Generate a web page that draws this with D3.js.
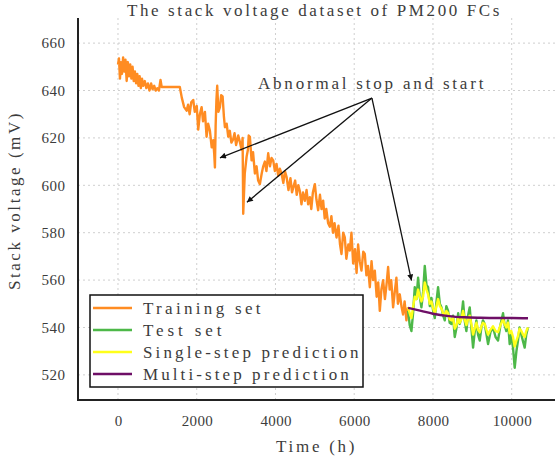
<!DOCTYPE html>
<html>
<head>
<meta charset="utf-8">
<script src="https://cdn.jsdelivr.net/npm/d3@7"></script>
<style>
  body { margin: 0; background: #fff; }
  svg { display: block; }
  text { font-family: "Liberation Serif", "DejaVu Serif", serif; fill: #3c3c3c; }
</style>
</head>
<body>
<div id="chart"></div>
<script>
// data: [time (h), stack voltage (mV)]
const trainingSet = [
  [0,651],[25,653.5],[50,645],[75,652],[100,647],[130,654],[160,648],[190,653],[220,644],[250,652],
  [280,646],[310,651],[340,645],[370,650],[400,644],[430,648],[460,643],[490,647],[520,642],[550,646],
  [580,641],[610,645],[640,642],[680,644],[720,641],[760,643],[800,640],[840,643],[880,640.5],[920,642],
  [960,640],[1000,641],[1040,640],[1080,644.5],[1110,641.5],[1570,641.5],[1620,637],[1680,633],[1743,631.5],
  [1780,634],[1820,630],[1860,635],[1911,636],[1950,631],[2000,633.5],[2038,623.5],[2080,630],[2124,633],
  [2160,627],[2208,631],[2250,620.5],[2290,626],[2335,623],[2380,616],[2419,619],[2445,613],[2462,607.5],
  [2480,625],[2500,636],[2520,642],[2550,631],[2589,633],[2620,638],[2657,637.5],[2690,629],[2716,624.5],
  [2760,626],[2800,620.5],[2840,623],[2880,618],[2927,619.5],[2960,622],[3000,617],[3054,621],[3100,618],
  [3139,615],[3165,620],[3181,588],[3220,605],[3266,612],[3300,615],[3320,621],[3350,620.5],[3393,610.5],
  [3430,614],[3477,605],[3520,608],[3560,602],[3604,600.5],[3650,605],[3689,608],[3730,610],[3770,606],
  [3815,613.5],[3860,608],[3900,611.5],[3942,610.5],[3985,606],[4027,609],[4070,604],[4110,607],[4154,605],
  [4200,601],[4240,606],[4282,603.5],[4330,598],[4380,603],[4420,597],[4451,599],[4500,602],[4540,596],
  [4580,600],[4620,597.5],[4660,592],[4700,597],[4746,593.5],[4790,598],[4830,592],[4873,595],[4910,590],
  [4950,597],[5000,600.5],[5040,594],[5084,589.5],[5130,596],[5170,590],[5211,593.5],[5250,586],[5290,590],
  [5338,584],[5381,582.5],[5420,587],[5460,580],[5500,584],[5550,578],[5600,583],[5640,575],[5677,571],
  [5720,580],[5761,578],[5800,569],[5850,575],[5888,572.5],[5930,580],[5973,567],[6020,573],[6060,563],
  [6099,575],[6140,568],[6184,564],[6230,572],[6269,571],[6310,562],[6350,566],[6396,557],[6440,568],
  [6480,560],[6523,564],[6570,553],[6610,559],[6650,547],[6690,556],[6734,560],[6780,552],[6820,558],
  [6861,565.5],[6900,556],[6940,560],[6988,548.5],[7030,555],[7072,561],[7110,550],[7157,554],[7200,549],
  [7241,545.5],[7280,551],[7326,543],[7350,547],[7368,548.5]
];

const testSet = [
  [7368,547],[7410,541],[7453,538.5],[7495,546],[7538,557],[7580,552],[7622,561],[7665,553],[7707,548.5],
  [7750,555],[7792,566],[7835,558],[7876,557],[7920,549],[7961,552.5],[8005,547],[8046,544],[8090,551],
  [8130,557],[8175,550],[8215,548.5],[8260,545],[8300,543],[8340,549],[8384,547],[8425,542],[8469,541.5],
  [8510,545],[8553,536],[8600,540],[8640,546],[8680,541.5],[8720,544],[8765,551],[8805,543],[8849,538.5],
  [8890,545],[8934,548.5],[8975,540],[9019,531.5],[9060,538],[9103,543],[9145,537],[9188,534.5],[9230,540],
  [9270,543],[9315,541.5],[9360,537],[9400,533],[9460,538],[9526,540],[9590,536],[9653,534.5],[9715,541],
  [9780,546],[9820,541],[9864,538.5],[9905,543],[9949,533],[9990,537],[10034,531.5],[10076,523],[10120,530],
  [10160,534.5],[10200,540],[10245,537],[10290,534],[10330,531.5],[10370,537],[10414,540]
];

const singleStep = [
  [7368,548.5],[7410,546],[7453,544],[7495,548.5],[7538,553],[7580,552],[7622,556],[7665,553],[7707,551],
  [7750,553],[7792,559],[7835,556],[7876,554],[7920,550],[7961,551],[8005,548],[8046,546],[8090,549],
  [8130,552],[8175,549],[8215,548],[8260,546],[8300,545],[8340,547],[8384,546],[8425,543.5],[8469,543],
  [8510,544],[8553,539.5],[8600,541],[8640,544],[8680,542],[8720,543.5],[8765,547],[8805,543.5],[8849,541],
  [8890,543.5],[8934,545],[8975,541.5],[9019,537],[9060,539.5],[9103,542],[9145,539],[9188,538],[9230,540.5],
  [9270,542],[9315,541.5],[9360,539],[9400,537],[9460,539],[9526,540.5],[9590,538.5],[9653,538],[9715,541],
  [9780,543.5],[9820,541.5],[9864,540],[9905,542],[9949,537.5],[9990,538.5],[10034,536],[10076,532],
  [10120,534.5],[10160,536.5],[10200,539.5],[10245,538.5],[10290,537],[10330,536],[10370,538.5],[10414,540]
];

const multiStep = [
  [7368,548.3],[7700,547],[8000,545.8],[8400,544.8],[8800,544.3],[9200,544.1],[9600,544],[10000,544],[10414,543.9]
];

const xTicks = [0, 2000, 4000, 6000, 8000, 10000];
const yTicks = [520, 540, 560, 580, 600, 620, 640, 660];

const legendItems = [
  { label: 'Training set', color: '#ff8c22' },
  { label: 'Test set', color: '#4db848' },
  { label: 'Single-step prediction', color: '#ffff1a' },
  { label: 'Multi-step prediction', color: '#6e0f66' }
];

// arrows: tips given in data units, all from one origin
const arrowOrigin = [6450, 636.8];
const arrowTips = [[2590, 611.6], [3275, 592.8], [7455, 559.8]];

const width = 555, height = 458;
const margin = { left: 78, right: 0, top: 18, bottom: 58 };
const charW = 9.8;   // the original font is fixed-pitch: ~9.8px per character

const svg = d3.select('#chart').append('svg')
  .attr('width', width)
  .attr('height', height);

// spread a label to the fixed-pitch width of the original
function pitched(sel, w) {
  sel.attr('textLength', function() { return this.textContent.length * w; })
    .attr('lengthAdjust', 'spacing');
}

const x = d3.scaleLinear().domain([-1016, 11100]).range([margin.left, width]);
const y = d3.scaleLinear().domain([509.4, 670.6]).range([height - margin.bottom, margin.top]);

svg.append('defs').append('clipPath').attr('id', 'clip')
  .append('rect')
  .attr('x', margin.left).attr('y', margin.top)
  .attr('width', width - margin.left).attr('height', height - margin.bottom - margin.top);

// grid
const grid = svg.append('g').attr('stroke', '#cfcfcf').attr('stroke-width', 1).attr('stroke-dasharray', '2,3');
grid.selectAll('line.v').data(xTicks).join('line').attr('class', 'v')
  .attr('x1', d => x(d)).attr('x2', d => x(d))
  .attr('y1', margin.top).attr('y2', height - margin.bottom);
grid.selectAll('line.h').data(yTicks).join('line').attr('class', 'h')
  .attr('x1', margin.left).attr('x2', width)
  .attr('y1', d => y(d)).attr('y2', d => y(d));

// axes (labels only, no tick marks)
const xAxis = svg.append('g')
  .attr('transform', `translate(0,${height - margin.bottom})`)
  .call(d3.axisBottom(x).tickValues(xTicks).tickSize(0).tickPadding(15).tickFormat(d3.format('d')));
xAxis.select('.domain').remove();
xAxis.selectAll('text').attr('font-size', 15).attr('font-family', null).call(pitched, 7.8);

const yAxis = svg.append('g')
  .attr('transform', `translate(${margin.left},0)`)
  .call(d3.axisLeft(y).tickValues(yTicks).tickSize(0).tickPadding(13));
yAxis.select('.domain').remove();
yAxis.selectAll('text').attr('font-size', 15).attr('font-family', null).call(pitched, 7.8);

// series
const line = d3.line().x(d => x(d[0])).y(d => y(d[1]));
const plot = svg.append('g').attr('clip-path', 'url(#clip)');
const series = [
  { data: trainingSet, color: legendItems[0].color, curve: d3.curveLinear },
  { data: testSet, color: legendItems[1].color, curve: d3.curveLinear },
  { data: singleStep, color: legendItems[2].color, curve: d3.curveLinear },
  { data: multiStep, color: legendItems[3].color, curve: d3.curveMonotoneX }
];
series.forEach(s => {
  plot.append('path')
    .datum(s.data)
    .attr('fill', 'none')
    .attr('stroke', s.color)
    .attr('stroke-width', 2.4)
    .attr('stroke-linejoin', 'round')
    .attr('d', line.curve(s.curve));
});

// axis lines
svg.append('line')
  .attr('x1', margin.left).attr('x2', margin.left)
  .attr('y1', margin.top).attr('y2', height - margin.bottom + 1)
  .attr('stroke', '#222').attr('stroke-width', 2);
svg.append('line')
  .attr('x1', margin.left - 1).attr('x2', width)
  .attr('y1', height - margin.bottom).attr('y2', height - margin.bottom)
  .attr('stroke', '#222').attr('stroke-width', 2);

// annotation
svg.append('defs').append('marker')
  .attr('id', 'arrow')
  .attr('viewBox', '0 0 10 10')
  .attr('refX', 10).attr('refY', 5)
  .attr('markerWidth', 9).attr('markerHeight', 6)
  .attr('markerUnits', 'userSpaceOnUse')
  .attr('orient', 'auto')
  .append('path').attr('d', 'M0,0L10,5L0,10Z').attr('fill', '#111');

svg.append('g').selectAll('line').data(arrowTips).join('line')
  .attr('x1', x(arrowOrigin[0])).attr('y1', y(arrowOrigin[1]))
  .attr('x2', d => x(d[0])).attr('y2', d => y(d[1]))
  .attr('stroke', '#111').attr('stroke-width', 1.3)
  .attr('marker-end', 'url(#arrow)');

svg.append('text')
  .attr('x', 258).attr('y', 89)
  .attr('font-size', 17)
  .text('Abnormal stop and start')
  .call(pitched, charW);

// legend
const legend = svg.append('g');
legend.append('rect')
  .attr('x', 90).attr('y', 295).attr('width', 273).attr('height', 92)
  .attr('fill', '#fff').attr('stroke', '#111').attr('stroke-width', 1.5);
const rows = legend.selectAll('g.row').data(legendItems).join('g')
  .attr('class', 'row')
  .attr('transform', (d, i) => `translate(0,${308 + i * 22})`);
rows.append('line')
  .attr('x1', 93).attr('x2', 132)
  .attr('stroke', d => d.color).attr('stroke-width', 2.4);
rows.append('text')
  .attr('x', 143).attr('dy', '0.35em')
  .attr('font-size', 17)
  .text(d => d.label)
  .call(pitched, charW);

// titles
svg.append('text')
  .attr('x', 127).attr('y', 16)
  .attr('font-size', 17)
  .text('The stack voltage dataset of PM200 FCs')
  .call(pitched, charW);

svg.append('text')
  .attr('x', 276).attr('y', 452)
  .attr('font-size', 17)
  .text('Time (h)')
  .call(pitched, charW);

svg.append('text')
  .attr('transform', 'translate(20,290) rotate(-90)')
  .attr('font-size', 17)
  .text('Stack voltage (mV)')
  .call(pitched, charW);
</script>
</body>
</html>
